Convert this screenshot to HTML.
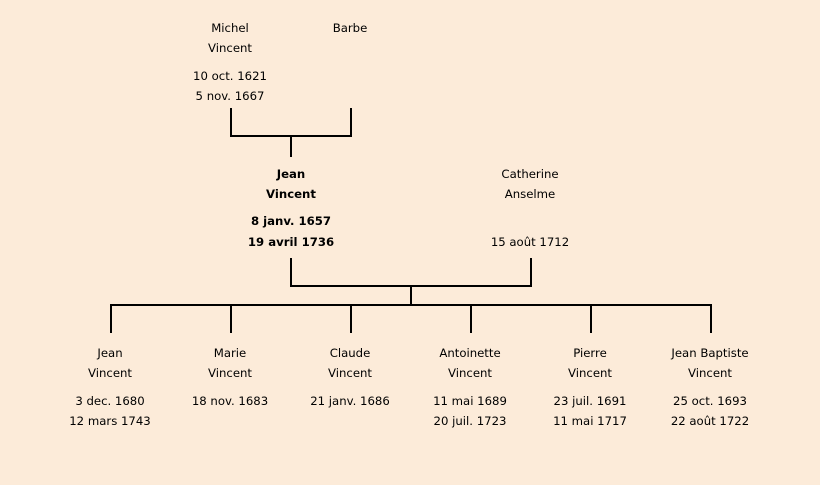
<!DOCTYPE html>
<html><head><meta charset="utf-8"><style>
html,body{margin:0;padding:0;background:#fcebd9;}
svg{display:block}
text{font-family:"Comic Sans MS","DejaVu Sans",sans-serif;font-size:11.7px;fill:#000;text-anchor:middle}
.b{font-weight:bold}
</style></head><body>
<svg width="820" height="485" viewBox="0 0 820 485" xmlns="http://www.w3.org/2000/svg">
<rect width="820" height="485" fill="#fcebd9"/>
<g stroke="#000" stroke-width="2" fill="none">
<path d="M231 108V136H351V108M291 136V157"/>
<path d="M291 258V286H531V258M411 286V305"/>
<path d="M111 333V305H711V333M231 305V333M351 305V333M471 305V333M591 305V333"/>
</g>
<text x="230" y="32">Michel</text><text x="230" y="52">Vincent</text>
<text x="230" y="80">10 oct. 1621</text><text x="230" y="100">5 nov. 1667</text>
<text x="350" y="32">Barbe</text>
<text class="b" x="291" y="178">Jean</text><text class="b" x="291" y="198">Vincent</text>
<text class="b" x="291" y="225">8 janv. 1657</text><text class="b" x="291" y="246">19 avril 1736</text>
<text x="530" y="178">Catherine</text><text x="530" y="198">Anselme</text>
<text x="530" y="246">15 août 1712</text>
<text x="110" y="357">Jean</text><text x="110" y="377">Vincent</text>
<text x="110" y="405">3 dec. 1680</text><text x="110" y="425">12 mars 1743</text>
<text x="230" y="357">Marie</text><text x="230" y="377">Vincent</text>
<text x="230" y="405">18 nov. 1683</text>
<text x="350" y="357">Claude</text><text x="350" y="377">Vincent</text>
<text x="350" y="405">21 janv. 1686</text>
<text x="470" y="357">Antoinette</text><text x="470" y="377">Vincent</text>
<text x="470" y="405">11 mai 1689</text><text x="470" y="425">20 juil. 1723</text>
<text x="590" y="357">Pierre</text><text x="590" y="377">Vincent</text>
<text x="590" y="405">23 juil. 1691</text><text x="590" y="425">11 mai 1717</text>
<text x="710" y="357">Jean Baptiste</text><text x="710" y="377">Vincent</text>
<text x="710" y="405">25 oct. 1693</text><text x="710" y="425">22 août 1722</text>
</svg>
</body></html>
